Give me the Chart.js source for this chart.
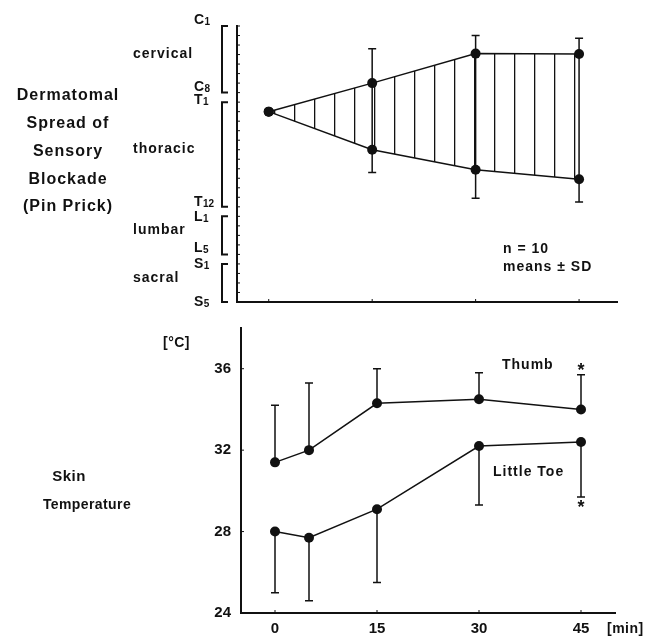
<!DOCTYPE html>
<html>
<head>
<meta charset="utf-8">
<script src="https://cdn.jsdelivr.net/npm/chart.js@4.4.1/dist/chart.umd.min.js"></script>
<style>
  html, body { margin: 0; padding: 0; background: #fff; }
  #wrap { position: relative; width: 647px; height: 639px; overflow: hidden; }
  canvas { position: absolute; left: 0; }
</style>
</head>
<body>
<div id="wrap">
  <canvas id="spread" width="647" height="320" style="top:0"></canvas>
  <canvas id="skin" width="647" height="319" style="top:320px"></canvas>
</div>
<script>
// upper panel: dermatome level index, 0 = C1 ... 29 = S5
const spreadMinutes = [0, 15, 30, 45];
const upperLevel = [9, 6, 2.9, 2.95];
const upperSD = [0, 3.6, 1.9, 1.65];
const lowerLevel = [9, 13, 15.1, 16.1];
const lowerSD = [0, 2.4, 3.0, 2.4];
const segmentLabels = ['C1', 'C8', 'T1', 'T12', 'L1', 'L5', 'S1', 'S5'];
const segmentLevels = [0, 7, 8, 19, 20, 24, 25, 29];
const regionNames = ['cervical', 'thoracic', 'lumbar', 'sacral'];
const regionStart = [0, 8, 20, 25];
const regionEnd = [7, 19, 24, 29];

// lower panel: skin temperature
const tempMinutes = [0, 5, 15, 30, 45];
const thumbTemp = [31.4, 32.0, 34.3, 34.5, 34.0];
const thumbSD = [2.8, 3.3, 1.7, 1.3, 1.7];
const toeTemp = [28.0, 27.7, 29.1, 32.2, 32.4];
const toeSD = [3.0, 3.1, 3.6, 2.9, 2.7];
const timeTicks = [0, 15, 30, 45];
const tempTicks = [24, 28, 32, 36];

const FONT = '"Liberation Sans", Arial, sans-serif';
const INK = '#111';

function pts(xs, ys) {
  return xs.map((x, i) => ({ x: x, y: ys[i] }));
}

// vertical hatching for the spread area
function hatchPattern() {
  const c = document.createElement('canvas');
  c.width = 20;
  c.height = 4;
  const g = c.getContext('2d');
  g.fillStyle = INK;
  g.fillRect(14, 0, 1.3, 4);
  return g.createPattern(c, 'repeat');
}

function text(ctx, str, x, y, size, align, spacing) {
  ctx.font = 'bold ' + size + 'px ' + FONT;
  ctx.letterSpacing = (spacing || 0) + 'px';
  ctx.textAlign = align || 'left';
  ctx.textBaseline = 'middle';
  ctx.fillStyle = INK;
  ctx.fillText(str, x, y);
  ctx.letterSpacing = '0px';
}

function vbar(ctx, px, y0, y1, cap0, cap1) {
  ctx.beginPath();
  ctx.moveTo(px, y0);
  ctx.lineTo(px, y1);
  if (cap0) { ctx.moveTo(px - 4, y0); ctx.lineTo(px + 4, y0); }
  if (cap1) { ctx.moveTo(px - 4, y1); ctx.lineTo(px + 4, y1); }
  ctx.stroke();
}

const spreadDecor = {
  id: 'spreadDecor',
  afterDraw(chart) {
    const { ctx, scales: { x, y } } = chart;
    ctx.save();
    ctx.strokeStyle = INK;
    ctx.lineWidth = 1.5;

    // error bars + vertical joins
    spreadMinutes.forEach((m, i) => {
      if (!upperSD[i]) return;
      vbar(ctx, x.getPixelForValue(m),
        y.getPixelForValue(upperLevel[i] - upperSD[i]),
        y.getPixelForValue(lowerLevel[i] + lowerSD[i]), true, true);
    });

    // small level ticks inside the axis
    ctx.lineWidth = 1;
    y.ticks.forEach(t => {
      const py = y.getPixelForValue(t.value);
      ctx.beginPath();
      ctx.moveTo(x.left, py);
      ctx.lineTo(x.left + 3, py);
      ctx.stroke();
    });
    spreadMinutes.forEach(m => {
      const px = x.getPixelForValue(m);
      ctx.beginPath();
      ctx.moveTo(px, y.bottom);
      ctx.lineTo(px, y.bottom - 3);
      ctx.stroke();
    });

    // region brackets
    ctx.lineWidth = 2;
    regionStart.forEach((s, i) => {
      const y0 = y.getPixelForValue(s);
      const y1 = y.getPixelForValue(regionEnd[i]);
      ctx.beginPath();
      ctx.moveTo(228, y0);
      ctx.lineTo(222, y0);
      ctx.lineTo(222, y1);
      ctx.lineTo(228, y1);
      ctx.stroke();
      text(ctx, regionNames[i], 133, (y0 + y1) / 2 - 5, 14, 'left', 1);
    });

    // segment labels with small numerals
    const dy = [-6, -5, -2, -5, 1, -6, 0, 0];
    segmentLabels.forEach((lab, i) => {
      const py = y.getPixelForValue(segmentLevels[i]) + dy[i];
      ctx.font = 'bold 14px ' + FONT;
      ctx.textAlign = 'left';
      ctx.textBaseline = 'middle';
      ctx.fillStyle = INK;
      ctx.fillText(lab[0], 194, py);
      const w = ctx.measureText(lab[0]).width;
      ctx.font = 'bold 10px ' + FONT;
      ctx.fillText(lab.slice(1), 194 + w + 0.5, py + 2);
    });

    // side title
    const title = ['Dermatomal', 'Spread of', 'Sensory', 'Blockade', '(Pin Prick)'];
    title.forEach((t, i) => text(ctx, t, 68, 96 + i * 27.7, 16, 'center', 1));

    text(ctx, 'n = 10', 503, 249, 14, 'left', 1);
    text(ctx, 'means \u00b1 SD', 503, 267, 14, 'left', 1);
    ctx.restore();
  }
};

const skinDecor = {
  id: 'skinDecor',
  afterDraw(chart) {
    const { ctx, scales: { x, y } } = chart;
    ctx.save();
    ctx.strokeStyle = INK;
    ctx.lineWidth = 1.5;
    tempMinutes.forEach((m, i) => {
      const px = x.getPixelForValue(m);
      vbar(ctx, px, y.getPixelForValue(thumbTemp[i]), y.getPixelForValue(thumbTemp[i] + thumbSD[i]), false, true);
      vbar(ctx, px, y.getPixelForValue(toeTemp[i]), y.getPixelForValue(toeTemp[i] - toeSD[i]), false, true);
    });

    ctx.lineWidth = 1;
    tempTicks.slice(1).forEach(v => {
      const py = y.getPixelForValue(v);
      ctx.beginPath();
      ctx.moveTo(x.left, py);
      ctx.lineTo(x.left + 3, py);
      ctx.stroke();
    });
    timeTicks.forEach(v => {
      const px = x.getPixelForValue(v);
      ctx.beginPath();
      ctx.moveTo(px, y.bottom);
      ctx.lineTo(px, y.bottom - 3);
      ctx.stroke();
    });

    const last = tempMinutes.length - 1;
    const lx = x.getPixelForValue(tempMinutes[last]);
    text(ctx, '*', lx, y.getPixelForValue(thumbTemp[last] + thumbSD[last]) - 4, 18, 'center');
    text(ctx, '*', lx, y.getPixelForValue(toeTemp[last] - toeSD[last]) + 11, 18, 'center');

    text(ctx, 'Thumb', 502, 45, 14, 'left', 1);
    text(ctx, 'Little Toe', 493, 152, 14, 'left', 1);
    text(ctx, '[\u00b0C]', 163, 23, 14, 'left', 0.5);
    text(ctx, 'Skin', 69, 157, 15, 'center', 0.5);
    text(ctx, 'Temperature', 87, 185, 14, 'center', 0.4);
    text(ctx, '[min]', 607, 309, 14, 'left', 0.5);
    ctx.restore();
  }
};

const lineStyle = {
  borderColor: INK,
  borderWidth: 1.5,
  pointRadius: 5,
  pointBackgroundColor: INK,
  pointBorderWidth: 0,
  tension: 0
};

new Chart(document.getElementById('spread'), {
  type: 'line',
  data: {
    datasets: [
      Object.assign({ label: 'upper', data: pts(spreadMinutes, upperLevel), fill: '+1', backgroundColor: hatchPattern() }, lineStyle),
      Object.assign({ label: 'lower', data: pts(spreadMinutes, lowerLevel), fill: false }, lineStyle)
    ]
  },
  options: {
    responsive: false,
    animation: false,
    layout: { padding: { left: 237, right: 30, top: 26, bottom: 18 } },
    plugins: { legend: { display: false }, tooltip: { enabled: false } },
    scales: {
      x: {
        type: 'linear', min: -4.6, max: 50.5,
        afterFit(s) { s.height = 0; },
        ticks: { display: false },
        grid: { display: false, drawTicks: false },
        border: { color: INK, width: 2 }
      },
      y: {
        type: 'linear', min: 0, max: 29, reverse: true,
        afterFit(s) { s.width = 0; },
        ticks: { display: false, stepSize: 1 },
        grid: { display: false, drawTicks: false },
        border: { color: INK, width: 2 }
      }
    }
  },
  plugins: [spreadDecor]
});

new Chart(document.getElementById('skin'), {
  type: 'line',
  data: {
    datasets: [
      Object.assign({ label: 'Thumb', data: pts(tempMinutes, thumbTemp), fill: false }, lineStyle),
      Object.assign({ label: 'Little Toe', data: pts(tempMinutes, toeTemp), fill: false }, lineStyle)
    ]
  },
  options: {
    responsive: false,
    animation: false,
    layout: { padding: { left: 201, right: 32, top: 8, bottom: 0 } },
    plugins: { legend: { display: false }, tooltip: { enabled: false } },
    scales: {
      x: {
        type: 'linear', min: -5, max: 50,
        afterFit(s) { s.height = 26; s.paddingLeft = 0; s.paddingRight = 0; },
        afterBuildTicks(s) { s.ticks = timeTicks.map(v => ({ value: v })); },
        ticks: { color: INK, padding: 7, maxRotation: 0, font: { family: FONT, size: 15, weight: 'bold' } },
        grid: { display: false, drawTicks: false },
        border: { color: INK, width: 2 }
      },
      y: {
        type: 'linear', min: 24, max: 38,
        afterFit(s) { s.width = 40; s.paddingTop = 0; s.paddingBottom = 0; },
        afterBuildTicks(s) { s.ticks = tempTicks.map(v => ({ value: v })); },
        ticks: { color: INK, padding: 10, font: { family: FONT, size: 15, weight: 'bold' } },
        grid: { display: false, drawTicks: false },
        border: { color: INK, width: 2 }
      }
    }
  },
  plugins: [skinDecor]
});
</script>
</body>
</html>
